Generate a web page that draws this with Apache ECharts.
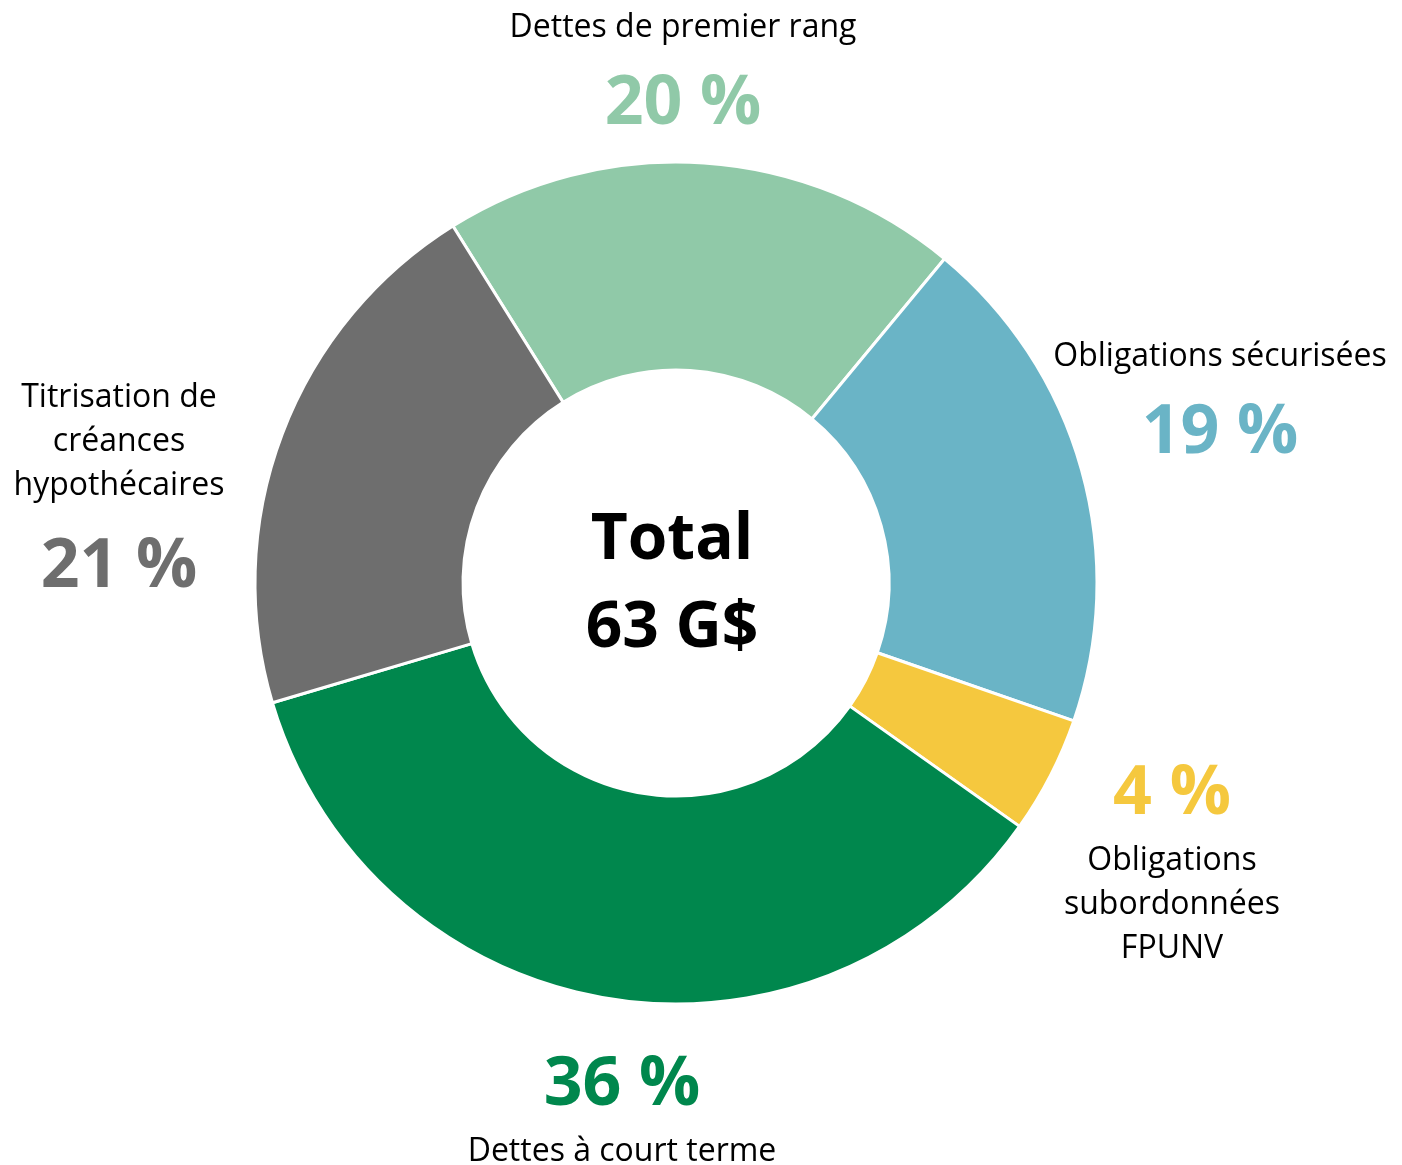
<!DOCTYPE html>
<html>
<head>
<meta charset="utf-8">
<script src="https://cdn.jsdelivr.net/npm/echarts@6/dist/echarts.min.js"></script>
<style>
  html, body { margin: 0; padding: 0; background: #fff; }
  #chart { width: 1402px; height: 1165px; }
</style>
</head>
<body>
<div id="chart"></div>
<script>
// parts of the 63 G$ total, in percent (clockwise from the upper left)
const categories = [
  'Dettes de premier rang',
  'Obligations sécurisées',
  'Obligations\nsubordonnées\nFPUNV',
  'Dettes à court terme',
  'Titrisation de\ncréances\nhypothécaires'
]
const shares = [19.9, 19.3, 4.5, 35.6, 20.7]
const pctLabels = ['20 %', '19 %', '4 %', '36 %', '21 %']
const colors = ['#90c9a8', '#6ab4c6', '#f5c83e', '#00874d', '#6e6e6e']
const totalText = ['Total', '63 G$']

// label block placement (x centre, y top) and whether the % goes first
const labelPos = [[683, 6], [1220, 335], [1172, 751], [622, 1042], [119, 376]]
const pctFirst = [false, false, true, true, false]
const belowGap = [110, 110, 110, 110, 120]

const font = '"Open Sans", "Noto Sans", sans-serif'

let myChart = echarts.init(document.getElementById('chart'))

myChart.setOption({
  backgroundColor: '#fff',
  animation: false,
  graphic: [{
    type: 'text',
    x: 672,
    y: 585,
    style: {
      text: totalText.join('\n'),
      fontFamily: font,
      fontSize: 64,
      fontWeight: 'bold',
      lineHeight: 88,
      fill: '#000',
      align: 'center',
      verticalAlign: 'middle'
    }
  }],
  series: [{
    type: 'pie',
    center: [676, 583],
    radius: [213, 421],
    startAngle: 122,
    clockwise: true,
    avoidLabelOverlap: false,
    itemStyle: {
      borderColor: '#fff',
      borderWidth: 3
    },
    labelLine: { show: false },
    label: {
      show: true,
      position: 'outside',
      formatter: function (p) {
        let i = p.dataIndex
        let nameLines = categories[i].split('\n').map(s => '{name|' + s + '}').join('\n')
        if (pctFirst[i]) {
          return '{pctAbove|' + pctLabels[i] + '}\n' + nameLines
        }
        return nameLines + '\n{pctBelow|' + pctLabels[i] + '}'
      },
      rich: {
        name: { fontFamily: font, fontSize: 32, color: '#000', lineHeight: 44, align: 'center' },
        pctBelow: { fontFamily: font, fontSize: 68, fontWeight: 'bold', lineHeight: 110, align: 'center' },
        pctAbove: { fontFamily: font, fontSize: 68, fontWeight: 'bold', lineHeight: 88, align: 'center' }
      }
    },
    labelLayout: function (p) {
      let pos = labelPos[p.dataIndex]
      return { x: pos[0], y: pos[1], align: 'center', verticalAlign: 'top' }
    },
    data: shares.map((v, i) => ({
      name: categories[i],
      value: v,
      itemStyle: { color: colors[i] },
      label: {
        rich: {
          pctBelow: { color: colors[i], lineHeight: belowGap[i] },
          pctAbove: { color: colors[i] }
        }
      }
    }))
  }]
})
</script>
</body>
</html>
